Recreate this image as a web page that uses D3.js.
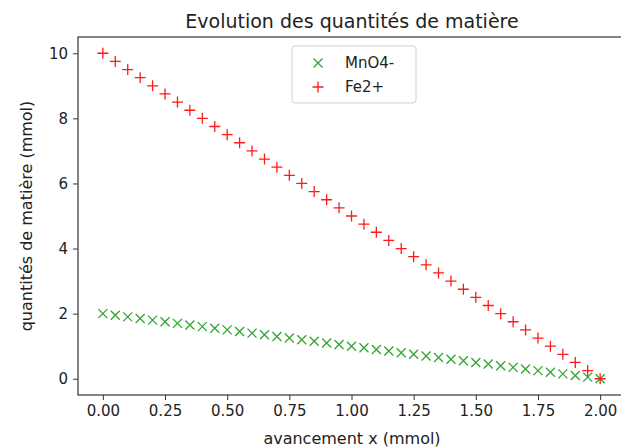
<!DOCTYPE html>
<html>
<head>
<meta charset="utf-8">
<script src="https://cdn.jsdelivr.net/npm/d3@7"></script>
<style>
  body { margin: 0; background: #fff; }
  text { font-family: "DejaVu Sans", sans-serif; fill: #222; }
</style>
</head>
<body>
<svg width="621" height="447"></svg>
<script>
const avancement = [0.00, 0.05, 0.10, 0.15, 0.20, 0.25, 0.30, 0.35, 0.40, 0.45,
  0.50, 0.55, 0.60, 0.65, 0.70, 0.75, 0.80, 0.85, 0.90, 0.95,
  1.00, 1.05, 1.10, 1.15, 1.20, 1.25, 1.30, 1.35, 1.40, 1.45,
  1.50, 1.55, 1.60, 1.65, 1.70, 1.75, 1.80, 1.85, 1.90, 1.95, 2.00];

const mno4 = [2.00, 1.95, 1.90, 1.85, 1.80, 1.75, 1.70, 1.65, 1.60, 1.55,
  1.50, 1.45, 1.40, 1.35, 1.30, 1.25, 1.20, 1.15, 1.10, 1.05,
  1.00, 0.95, 0.90, 0.85, 0.80, 0.75, 0.70, 0.65, 0.60, 0.55,
  0.50, 0.45, 0.40, 0.35, 0.30, 0.25, 0.20, 0.15, 0.10, 0.05, 0.00];

const fe2 = [10.00, 9.75, 9.50, 9.25, 9.00, 8.75, 8.50, 8.25, 8.00, 7.75,
  7.50, 7.25, 7.00, 6.75, 6.50, 6.25, 6.00, 5.75, 5.50, 5.25,
  5.00, 4.75, 4.50, 4.25, 4.00, 3.75, 3.50, 3.25, 3.00, 2.75,
  2.50, 2.25, 2.00, 1.75, 1.50, 1.25, 1.00, 0.75, 0.50, 0.25, 0.00];

const xTicks = [0, 0.25, 0.5, 0.75, 1, 1.25, 1.5, 1.75, 2];
const yTicks = [0, 2, 4, 6, 8, 10];

const svg = d3.select("svg");
const plotLeft = 78, plotRight = 625, plotTop = 37, plotBottom = 395;

const x = d3.scaleLinear().domain([-0.1, 2.1]).range([plotLeft, plotRight]);
const y = d3.scaleLinear().domain([-0.5, 10.5]).range([plotBottom, plotTop]);

// axes
const xAxis = svg.append("g")
  .attr("transform", `translate(0,${plotBottom})`)
  .call(d3.axisBottom(x).tickValues(xTicks).tickFormat(d3.format(".2f")).tickSizeOuter(0).tickSize(5).tickPadding(5));
const yAxis = svg.append("g")
  .attr("transform", `translate(${plotLeft},0)`)
  .call(d3.axisLeft(y).tickValues(yTicks).tickFormat(d3.format("d")).tickSizeOuter(0).tickSize(5).tickPadding(5));

[xAxis, yAxis].forEach(a => {
  a.select(".domain").remove();
  a.selectAll("line").attr("stroke", "#333");
  a.selectAll("text").style("font-size", "15px").attr("fill", "#222");
});

// frame
svg.append("rect")
  .attr("x", plotLeft).attr("y", plotTop)
  .attr("width", plotRight - plotLeft).attr("height", plotBottom - plotTop)
  .attr("fill", "none").attr("stroke", "#333").attr("stroke-width", 1.2);

const green = "#33a333", red = "#ff1a1a";
const crossPath = "M-4.5,-4.5L4.5,4.5M-4.5,4.5L4.5,-4.5";
const plusPath = "M-5.5,0L5.5,0M0,-5.5L0,5.5";

svg.append("g").selectAll("path")
  .data(avancement)
  .join("path")
  .attr("transform", (d, i) => `translate(${x(d)},${y(mno4[i])})`)
  .attr("d", crossPath)
  .attr("stroke", green).attr("stroke-width", 1.3).attr("fill", "none");

svg.append("g").selectAll("path")
  .data(avancement)
  .join("path")
  .attr("transform", (d, i) => `translate(${x(d)},${y(fe2[i])})`)
  .attr("d", plusPath)
  .attr("stroke", red).attr("stroke-width", 1.3).attr("fill", "none");

// title and labels
svg.append("text")
  .attr("x", 352).attr("y", 28)
  .attr("text-anchor", "middle")
  .style("font-size", "19px")
  .text("Evolution des quantités de matière");

svg.append("text")
  .attr("x", 352).attr("y", 444)
  .attr("text-anchor", "middle")
  .style("font-size", "16px")
  .text("avancement x (mmol)");

svg.append("text")
  .attr("transform", `translate(32,${(plotTop + plotBottom) / 2}) rotate(-90)`)
  .attr("text-anchor", "middle")
  .style("font-size", "16px")
  .text("quantités de matière (mmol)");

// legend
const legend = svg.append("g").attr("transform", "translate(292,46)");
legend.append("rect")
  .attr("width", 124).attr("height", 57).attr("rx", 3)
  .attr("fill", "#fff").attr("stroke", "#d0d0d0");
const items = [
  { label: "MnO4-", path: crossPath, color: green },
  { label: "Fe2+", path: plusPath, color: red }
];
items.forEach((it, i) => {
  const g = legend.append("g").attr("transform", `translate(0,${17 + i * 24})`);
  g.append("path").attr("transform", "translate(26,0)")
    .attr("d", it.path).attr("stroke", it.color).attr("stroke-width", 1.3).attr("fill", "none");
  g.append("text").attr("x", 53).attr("y", 5)
    .style("font-size", "15px").text(it.label);
});
</script>
</body>
</html>
